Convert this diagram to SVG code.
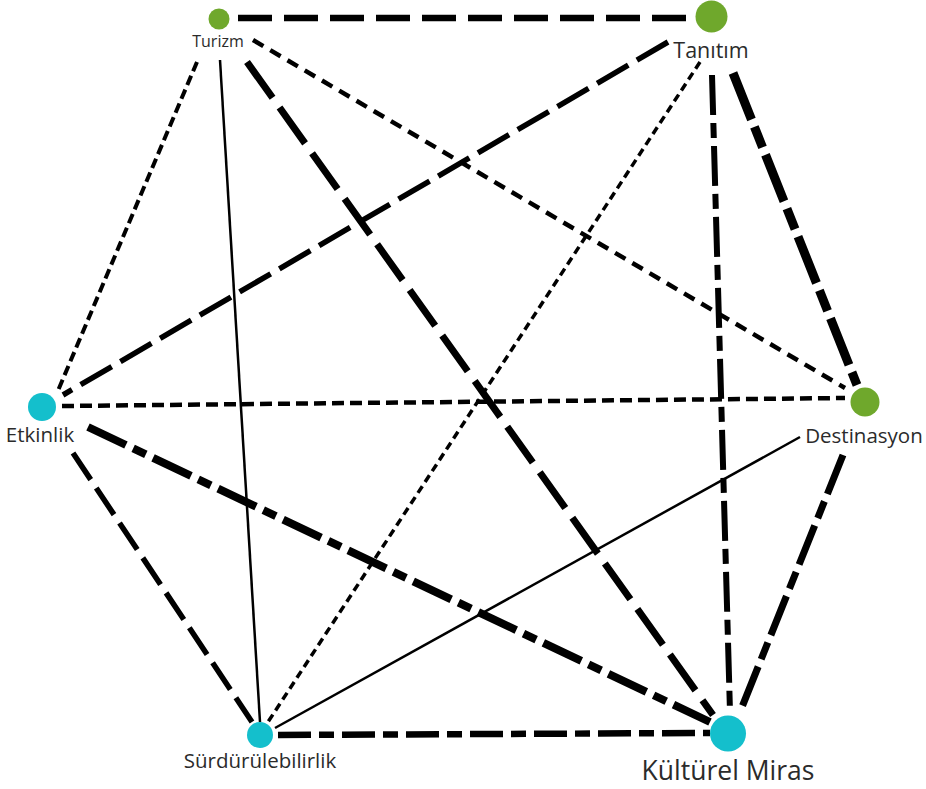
<svg xmlns="http://www.w3.org/2000/svg" width="926" height="789" viewBox="0 0 926 789">
<style>
.e{fill:none;stroke:#000;stroke-linecap:butt}
.g{fill:#6fa82c}
.c{fill:#14bfcc}
text{font-family:"Open Sans","Noto Sans","DejaVu Sans",sans-serif;fill:#2b2b2b;text-anchor:middle}
</style>
<rect width="926" height="789" fill="#fff"/>
<g id="edges">
<line class="e" x1="238" y1="18" x2="690" y2="18" stroke-width="6.5" stroke-dasharray="34 12"/>
<line class="e" x1="197" y1="62" x2="57" y2="393" stroke-width="4" stroke-dasharray="10 5"/>
<line class="e" x1="220" y1="60" x2="260" y2="722" stroke-width="2.5"/>
<line class="e" x1="247" y1="62" x2="713" y2="715" stroke-width="7" stroke-dasharray="44 12"/>
<line class="e" x1="253" y1="40" x2="845" y2="388" stroke-width="4.5" stroke-dasharray="12 8"/>
<line class="e" x1="668" y1="42" x2="63" y2="395" stroke-width="5.5" stroke-dasharray="36 10"/>
<line class="e" x1="700" y1="62" x2="268" y2="722" stroke-width="3.5" stroke-dasharray="8 5"/>
<line class="e" x1="712" y1="75" x2="730" y2="712" stroke-width="6" stroke-dasharray="40 8 15 8"/>
<line class="e" x1="733" y1="73" x2="857" y2="385" stroke-width="9" stroke-dasharray="50 8 22 8"/>
<line class="e" x1="62" y1="406" x2="845" y2="398" stroke-width="4.5" stroke-dasharray="12 6"/>
<line class="e" x1="73" y1="453" x2="252" y2="722" stroke-width="5.5" stroke-dasharray="32 10"/>
<line class="e" x1="88" y1="427" x2="710" y2="722" stroke-width="8" stroke-dasharray="42 8 14 8"/>
<line class="e" x1="800" y1="437" x2="275" y2="728" stroke-width="2.5"/>
<line class="e" x1="843" y1="455" x2="740" y2="712" stroke-width="7" stroke-dasharray="42 8 18 8"/>
<line class="e" x1="278" y1="735" x2="710" y2="733" stroke-width="6.5" stroke-dasharray="33 8 15 8"/>
</g>
<g id="turizm"><circle class="g" cx="219" cy="19" r="10.5"/><text x="218" y="47" font-size="16">Turizm</text></g>
<g id="tanitim"><circle class="g" cx="711.5" cy="16.5" r="16"/><text x="711" y="58" font-size="21.5">Tanıtım</text></g>
<g id="etkinlik"><circle class="c" cx="42" cy="407" r="14"/><text x="40" y="442" font-size="20.5">Etkinlik</text></g>
<g id="destinasyon"><circle class="g" cx="865" cy="402" r="14.5"/><text x="864" y="443" font-size="20.5">Destinasyon</text></g>
<g id="surdurulebilirlik"><circle class="c" cx="260" cy="735" r="13"/><text x="260" y="768" font-size="20.5">Sürdürülebilirlik</text></g>
<g id="kulturel-miras"><circle class="c" cx="728" cy="733.5" r="18"/><text x="728" y="780" font-size="26.5">Kültürel Miras</text></g>
</svg>
